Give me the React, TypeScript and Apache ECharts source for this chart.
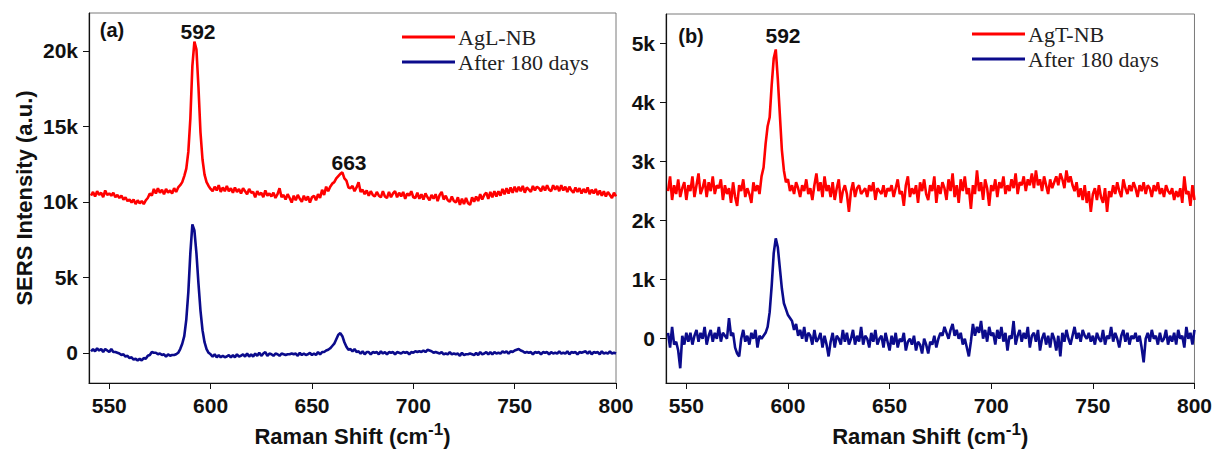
import { useEffect, useRef } from "react";
import * as echarts from "echarts";

// Raman shift grid (cm-1), one point per wavenumber from 541 to 800
const ramanShift: number[] = Array.from({ length: 260 }, (_, i) => 541 + i);

// Panel (a) — intensities in thousands (k)
const aglNB: number[] = [
  10.4, 10.65, 10.35, 10.7, 10.45, 10.6, 10.3, 10.75, 10.45, 10.55,
  10.4, 10.6, 10.3, 10.45, 10.25, 10.4, 10.15, 10.3, 10.05, 10.15,
  9.95, 10.15, 9.85, 10.1, 9.9, 10.05, 9.85, 10.1, 10.25, 10.55,
  10.4, 10.85, 10.55, 10.9, 10.6, 10.8, 10.5, 10.85, 10.6, 10.75,
  10.55, 10.9, 10.65, 10.95, 11.1, 11.3, 11.7, 12.2, 13.3, 15.5,
  19.0, 20.6, 20.1, 17.6, 14.6, 12.8, 11.8, 11.3, 11.05, 10.85,
  10.7, 11.0, 10.75, 11.1, 10.65, 10.95, 10.7, 11.05, 10.7, 10.9,
  10.6, 10.95, 10.65, 10.85, 10.55, 10.9, 10.7, 10.5, 10.85, 10.6,
  10.65, 10.3, 10.7, 10.45, 10.6, 10.3, 10.75, 10.4, 10.55, 10.35,
  10.6, 10.25, 10.5, 10.9, 10.3, 10.45, 10.15, 10.5, 10.25, 9.95,
  10.4, 10.1, 10.45, 10.2, 10.0, 10.4, 10.1, 10.35, 9.95, 10.3,
  10.4, 10.1, 10.5, 10.25, 10.8, 10.45, 11.0, 10.7, 11.0, 11.2,
  11.3, 11.55, 11.7, 11.85, 11.95, 11.55, 11.4, 10.95, 10.9, 11.05,
  10.7, 10.95, 11.3, 10.65, 10.8, 10.5, 10.75, 10.4, 10.7, 10.45,
  10.35, 10.65, 10.4, 10.3, 10.7, 10.35, 10.25, 10.65, 10.3, 10.55,
  10.7, 10.3, 10.6, 10.35, 10.65, 10.2, 10.55, 10.4, 10.7, 10.3,
  10.25, 10.6, 10.2, 10.5, 10.15, 10.55, 10.3, 10.1, 10.45, 10.2,
  10.5, 10.05, 10.45, 10.65, 10.15, 10.4, 10.1, 10.0, 10.35, 10.05,
  9.95, 10.3, 9.8, 10.2, 9.85, 10.25, 9.9, 9.8, 10.3, 10.0,
  10.35, 10.05, 10.5, 10.15, 10.45, 10.6, 10.2, 10.65, 10.3, 10.7,
  10.35, 10.7, 10.4, 10.85, 10.5, 10.9, 10.55, 10.95, 10.6, 11.0,
  10.65, 11.0, 10.7, 11.05, 10.6, 10.95, 10.8, 10.65, 11.05, 10.75,
  11.0, 10.9, 10.7, 11.05, 10.75, 11.1, 10.8, 10.7, 11.1, 10.8,
  11.05, 10.7, 11.1, 10.75, 11.0, 10.65, 11.0, 10.75, 10.6, 10.95,
  10.65, 10.9, 10.55, 10.85, 10.6, 10.95, 10.5, 10.8, 10.55, 10.85,
  10.45, 10.75, 10.4, 10.7, 10.35, 10.65, 10.45, 10.25, 10.6, 10.35,
];

const aglAfter: number[] = [
  0.1, 0.25, 0.1, 0.3, 0.15, 0.25, 0.05, 0.25, 0.15, 0.05,
  0.25, 0.05, 0.05, 0.0, -0.05, -0.15, -0.1, -0.25, -0.2, -0.35,
  -0.3, -0.45, -0.4, -0.5, -0.4, -0.5, -0.35, -0.4, -0.2, -0.15,
  0.05, 0.0, 0.0, -0.1, -0.05, -0.15, -0.1, -0.25, -0.1, -0.2,
  -0.15, -0.15, -0.1, 0.0, 0.25, 0.6, 1.1, 2.2, 4.0, 6.6,
  8.5, 8.1, 6.6, 4.6, 2.8, 1.5, 0.7, 0.25, 0.0, -0.1,
  -0.25, -0.1, -0.3, -0.15, -0.3, -0.2, -0.3, -0.25, -0.15, -0.3,
  -0.15, -0.3, -0.1, -0.25, -0.2, -0.1, -0.25, -0.05, -0.25, -0.1,
  -0.25, -0.05, -0.2, 0.0, -0.2, -0.05, 0.05, -0.2, -0.05, -0.1,
  -0.2, -0.05, -0.1, -0.2, -0.05, -0.1, -0.15, -0.1, -0.1, -0.05,
  -0.1, -0.05, -0.2, 0.0, -0.15, -0.05, -0.15, -0.1, 0.0, -0.15,
  -0.05, -0.15, 0.05, -0.1, 0.05, 0.05, 0.15, 0.2, 0.3, 0.45,
  0.6, 0.9, 1.2, 1.3, 1.1, 0.7, 0.4, 0.2, 0.25, 0.1,
  0.25, 0.05, 0.1, -0.05, 0.1, -0.1, 0.05, 0.05, -0.1, 0.05,
  0.0, 0.05, -0.1, 0.1, -0.05, 0.05, -0.1, 0.05, 0.0, 0.05,
  -0.1, 0.05, 0.0, -0.05, 0.05, 0.0, 0.05, -0.1, 0.05, 0.0,
  0.1, 0.05, 0.1, 0.05, 0.15, 0.05, 0.2, 0.15, 0.1, 0.0,
  0.05, 0.0, -0.05, 0.05, -0.1, -0.05, -0.1, 0.05, -0.1, -0.05,
  -0.1, -0.05, -0.2, 0.0, -0.15, -0.1, -0.1, -0.05, -0.1, -0.15,
  0.0, -0.15, 0.05, -0.1, -0.05, 0.05, -0.1, 0.05, -0.1, 0.05,
  -0.05, 0.0, -0.05, 0.1, 0.0, 0.1, -0.05, 0.1, 0.05, 0.15,
  0.2, 0.25, 0.15, 0.1, 0.0, 0.05, 0.0, 0.05, -0.1, 0.05,
  0.0, 0.05, -0.1, 0.05, 0.0, 0.05, -0.1, 0.05, -0.05, 0.0,
  -0.05, 0.1, -0.05, 0.0, -0.05, 0.1, -0.1, 0.05, 0.0, 0.05,
  -0.1, 0.05, 0.0, 0.05, 0.1, -0.05, 0.1, -0.1, 0.05, 0.0,
  0.05, -0.1, 0.1, -0.05, 0.0, -0.05, 0.1, -0.05, 0.0, -0.05,
];

// Panel (b) — intensities in thousands (k)
const agtNB: number[] = [
  2.5, 2.75, 2.35, 2.6, 2.45, 2.7, 2.4, 2.55, 2.65, 2.35,
  2.6, 2.5, 2.75, 2.4, 2.6, 2.8, 2.45, 2.55, 2.7, 2.4,
  2.65, 2.5, 2.75, 2.45, 2.6, 2.55, 2.7, 2.35, 2.6, 2.45,
  2.55, 2.3, 2.65, 2.4, 2.25, 2.6, 2.5, 2.7, 2.4, 2.55,
  2.45, 2.3, 2.65, 2.5, 2.6, 2.45, 2.75, 2.9, 3.3, 3.6,
  3.75, 4.3, 4.75, 4.9, 4.4, 3.8, 3.2, 2.85, 2.65, 2.7,
  2.5, 2.6, 2.45, 2.65, 2.55, 2.4, 2.6, 2.5, 2.7, 2.45,
  2.55, 2.35, 2.6, 2.8, 2.5, 2.65, 2.4, 2.75, 2.5, 2.6,
  2.4, 2.65, 2.35, 2.55, 2.7, 2.3, 2.5, 2.6, 2.45, 2.15,
  2.5, 2.65, 2.4, 2.55, 2.6, 2.45, 2.5, 2.55, 2.4, 2.6,
  2.5, 2.65, 2.35, 2.55, 2.5, 2.45, 2.6, 2.4, 2.55, 2.5,
  2.6, 2.4, 2.55, 2.7, 2.45, 2.5, 2.25, 2.6, 2.75, 2.4,
  2.55, 2.45, 2.6, 2.3, 2.65, 2.5, 2.7, 2.45, 2.35, 2.6,
  2.5, 2.75, 2.3, 2.6, 2.45, 2.65, 2.55, 2.35, 2.7, 2.5,
  2.8, 2.4, 2.6, 2.3, 2.7, 2.5, 2.75, 2.45, 2.55, 2.2,
  2.6, 2.45, 2.85, 2.5, 2.65, 2.35, 2.7, 2.55, 2.25, 2.6,
  2.5, 2.7, 2.4, 2.65, 2.55, 2.75, 2.45, 2.6, 2.5, 2.7,
  2.55, 2.8, 2.45, 2.65, 2.6, 2.75, 2.5, 2.7, 2.6, 2.8,
  2.55, 2.85, 2.6, 2.7, 2.5, 2.75, 2.6, 2.45, 2.7, 2.55,
  2.65, 2.75, 2.6, 2.8, 2.7, 2.55, 2.85, 2.65, 2.75, 2.6,
  2.5, 2.65, 2.4, 2.55, 2.35, 2.6, 2.3, 2.5, 2.15, 2.45,
  2.55, 2.35, 2.6, 2.4, 2.3, 2.55, 2.15, 2.5, 2.4, 2.6,
  2.45, 2.65, 2.5, 2.4, 2.7, 2.55, 2.45, 2.6, 2.5, 2.65,
  2.55, 2.4, 2.6, 2.5, 2.65, 2.45, 2.6, 2.55, 2.4, 2.6,
  2.5, 2.65, 2.45, 2.55, 2.4, 2.6, 2.5, 2.45, 2.55, 2.35,
  2.5, 2.4, 2.55, 2.3, 2.75, 2.45, 2.5, 2.25, 2.6, 2.35,
];

const agtAfter: number[] = [
  0.1, -0.15, 0.2, -0.1, -0.05, -0.2, -0.5, 0.05, -0.1, 0.1,
  -0.05, 0.1, -0.1, 0.05, 0.15, -0.05, 0.1, 0.0, 0.2, -0.1,
  0.05, 0.15, -0.05, 0.1, 0.0, 0.2, -0.05, 0.1, 0.05, 0.0,
  0.35, 0.05, 0.1, -0.15, -0.25, -0.3, 0.0, 0.15, -0.05, 0.05,
  -0.1, 0.1, 0.0, 0.15, -0.15, 0.05, 0.0, 0.05, 0.1, 0.2,
  0.45, 0.9, 1.45, 1.7, 1.55, 1.2, 0.85, 0.6, 0.5, 0.4,
  0.35, 0.3, 0.15, 0.25, 0.05, 0.15, 0.0, 0.2, -0.05, 0.1,
  0.05, -0.1, 0.15, -0.05, 0.0, 0.1, -0.15, 0.05, -0.1, -0.3,
  -0.05, 0.1, -0.15, 0.05, 0.0, -0.1, 0.15, -0.05, 0.1, -0.1,
  0.0, 0.15, -0.1, 0.05, -0.05, 0.2, -0.1, 0.05, 0.0, -0.15,
  0.1, -0.05, 0.15, -0.1, 0.0, 0.05, -0.15, 0.1, -0.05, -0.2,
  0.05, -0.1, 0.1, -0.15, 0.0, -0.05, 0.1, -0.2, -0.05, 0.0,
  -0.1, 0.05, -0.2, -0.05, -0.1, -0.25, 0.0, -0.1, -0.25, -0.05,
  -0.1, 0.05, -0.15, 0.0, 0.1, 0.05, 0.2, 0.1, 0.0, 0.15,
  0.25, 0.05, 0.15, 0.0, 0.1, -0.1, 0.0, -0.15, -0.3, -0.05,
  0.25, 0.05, 0.2, 0.1, 0.3, 0.0, 0.15, -0.05, 0.2, 0.05,
  0.1, -0.1, 0.15, 0.0, 0.2, -0.05, 0.1, -0.2, 0.05, 0.0,
  0.3, -0.1, 0.05, 0.15, -0.05, 0.1, 0.0, 0.2, -0.15, 0.05,
  0.1, -0.05, 0.15, -0.2, 0.0, 0.1, -0.1, 0.05, -0.15, 0.1,
  0.0, -0.2, 0.05, -0.3, 0.1, -0.05, 0.15, 0.0, -0.1, 0.05,
  0.2, 0.0, 0.1, -0.05, 0.15, 0.05, 0.0, 0.1, -0.05, 0.05,
  -0.1, 0.1, 0.0, -0.05, 0.15, -0.1, 0.05, 0.0, 0.2, -0.05,
  0.1, 0.0, -0.15, 0.05, 0.15, -0.05, 0.1, -0.1, 0.05, 0.0,
  0.1, -0.05, 0.05, -0.15, -0.4, 0.0, 0.1, -0.05, 0.15, 0.0,
  0.05, -0.1, 0.1, -0.05, 0.0, 0.15, -0.1, 0.05, -0.05, 0.1,
  -0.1, 0.15, 0.0, 0.05, -0.15, 0.2, 0.0, 0.1, -0.1, 0.15,
];

const xTicks = [550, 600, 650, 700, 750, 800];
const yTicksA = [0, 5, 10, 15, 20];
const yTicksB = [0, 1, 2, 3, 4, 5];

const RED = "#ff0000";
const NAVY = "#0b0b8c";
const SANS = "Liberation Sans, Arial, sans-serif";
const SERIF = "Liberation Serif, Times New Roman, serif";

const pairs = (ys: number[]) => ramanShift.map((x, i) => [x, ys[i]]);
const kFmt = (v: number) => (v === 0 ? "0" : `${v}k`);

function xAxisFor(gridIndex: number) {
  return {
    type: "value",
    gridIndex,
    min: 540,
    max: 800,
    axisLine: { show: true, onZero: false, lineStyle: { color: "#111", width: 1.2 } },
    axisTick: { show: true, customValues: xTicks, length: 6, lineStyle: { color: "#111" } },
    axisLabel: {
      customValues: xTicks,
      fontSize: 21,
      fontWeight: "bold",
      fontFamily: SANS,
      color: "#111",
      margin: 12,
    },
    splitLine: { show: false },
    name: "Raman Shift (cm{sup|-1})",
    nameLocation: "middle",
    nameGap: 38,
    nameTextStyle: {
      fontSize: 22,
      fontWeight: "bold",
      fontFamily: SANS,
      color: "#111",
      rich: {
        sup: {
          fontSize: 17,
          fontWeight: "bold",
          fontFamily: SANS,
          color: "#111",
          verticalAlign: "bottom",
          padding: [0, 0, 13, 0],
        },
      },
    },
  };
}

function yAxisFor(gridIndex: number, min: number, max: number, ticks: number[], name?: string) {
  return {
    type: "value",
    gridIndex,
    min,
    max,
    axisLine: { show: true, onZero: false, lineStyle: { color: "#111", width: 1.2 } },
    axisTick: { show: true, customValues: ticks, length: 6, lineStyle: { color: "#111" } },
    axisLabel: {
      customValues: ticks,
      formatter: kFmt,
      fontSize: 21,
      fontWeight: "bold",
      fontFamily: SANS,
      color: "#111",
      margin: 11,
    },
    splitLine: { show: false },
    name: name ?? "",
    nameLocation: "middle",
    nameGap: 54,
    nameTextStyle: { fontSize: 22, fontWeight: "bold", fontFamily: SANS, color: "#111" },
  };
}

function lineSeries(name: string, color: string, data: number[], axisIndex: number) {
  return {
    type: "line",
    name,
    xAxisIndex: axisIndex,
    yAxisIndex: axisIndex,
    data: pairs(data),
    symbol: "none",
    showSymbol: false,
    lineStyle: { color, width: 2.6 },
    itemStyle: { color },
    silent: true,
  };
}

const annText = (text: string, x: number, y: number, size: number) => ({
  type: "text",
  x,
  y,
  style: {
    text,
    fontSize: size,
    fontWeight: "bold",
    fontFamily: SANS,
    fill: "#111",
    textAlign: "center",
    textVerticalAlign: "middle",
  },
});

const legendBase = {
  orient: "vertical",
  icon: "rect",
  itemWidth: 53,
  itemHeight: 3,
  itemGap: 3,
  textStyle: { fontFamily: SERIF, fontSize: 22, color: "#222", padding: [0, 0, 0, -2] },
  selectedMode: false,
};

export default function App() {
  const ref = useRef<HTMLDivElement>(null);

  useEffect(() => {
    if (!ref.current) return;
    const chart = echarts.init(ref.current, undefined, { renderer: "svg" });
    chart.setOption({
      animation: false,
      backgroundColor: "#ffffff",
      grid: [
        { left: 89, top: 13, width: 527, height: 374, show: true, borderColor: "#7a7a7a", borderWidth: 1 },
        { left: 666, top: 14, width: 529, height: 375, show: true, borderColor: "#7a7a7a", borderWidth: 1 },
      ],
      xAxis: [xAxisFor(0), xAxisFor(1)],
      yAxis: [
        yAxisFor(0, -2, 22.5, yTicksA, "SERS Intensity (a.u.)"),
        yAxisFor(1, -0.75, 5.5, yTicksB),
      ],
      legend: [
        { ...legendBase, data: ["AgL-NB", "After 180 days"], left: 397, top: 21 },
        { ...legendBase, data: ["AgT-NB", "After 180 days"], left: 967, top: 18 },
      ],
      series: [
        lineSeries("AgL-NB", RED, aglNB, 0),
        lineSeries("After 180 days", NAVY, aglAfter, 0),
        lineSeries("AgT-NB", RED, agtNB, 1),
        lineSeries("After 180 days", NAVY, agtAfter, 1),
      ],
      graphic: [
        annText("(a)", 112, 30, 20),
        annText("592", 198, 31, 21),
        annText("663", 349, 162, 21),
        annText("(b)", 691, 36, 20),
        annText("592", 783, 35, 21),
      ],
    });
    return () => chart.dispose();
  }, []);

  return (
    <div
      ref={ref}
      style={{ position: "fixed", left: 0, top: 0, width: 1215, height: 452, background: "#fff" }}
    />
  );
}
